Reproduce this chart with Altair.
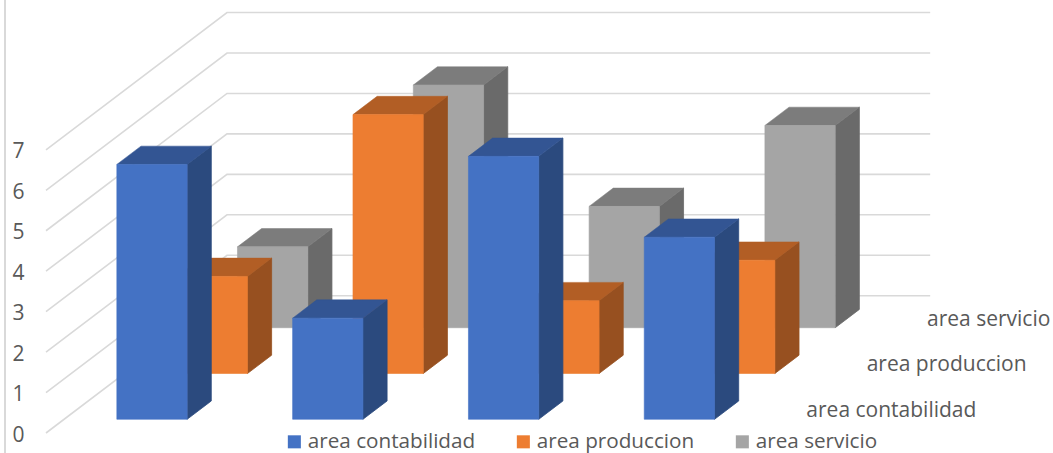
import altair as alt
import pandas as pd

# Survey results per area, drawn as a 3-D column chart on an oblique floor.
series = ["area contabilidad", "area produccion", "area servicio"]
contabilidad = [6.3, 2.5, 6.5, 4.5]
produccion = [2.4, 6.4, 1.8, 2.8]
servicio = [2.0, 6.0, 3.0, 5.0]
values_by_series = [contabilidad, produccion, servicio]
ticks = [0, 1, 2, 3, 4, 5, 6, 7]

front_colors = ["#4472C4", "#ED7D31", "#A5A5A5"]
top_colors = ["#335593", "#B25E25", "#7C7C7C"]
side_colors = ["#2B4A7E", "#975020", "#6A6A6A"]
GRID = "#D9D9D9"
INK = "#595959"
FONT = "Open Sans"

# Oblique projection: one series step of depth shifts a point right and up.
N_CAT = 4
N_SER = 3
CAT_PX = 175.8
UNIT_PX = 40.45
SHEAR_X = 60.33 / CAT_PX
SHEAR_Y = 45.77 / UNIT_PX
GAP = 0.3
BAR = 0.4

LEFT = 30
ORIGIN_X = 46
ORIGIN_Y = 433
W, H = 1053, 453
x_scale = alt.Scale(domain=[(LEFT - ORIGIN_X) / CAT_PX, (W - ORIGIN_X) / CAT_PX], nice=False, zero=False)
y_scale = alt.Scale(domain=[(ORIGIN_Y - H) / UNIT_PX, ORIGIN_Y / UNIT_PX], nice=False, zero=False)


def px(cat, depth):
    return cat + depth * SHEAR_X


def py(value, depth):
    return value + depth * SHEAR_Y


X = alt.X("x:Q", scale=x_scale, axis=None)
Y = alt.Y(
    "y:Q",
    scale=y_scale,
    title=None,
    axis=alt.Axis(
        values=ticks, domain=False, ticks=False, grid=False, labelPadding=6, labelOffset=2,
        labelFont=FONT, labelFontSize=21, labelColor=INK, format="d",
    ),
)

# Wall and floor gridlines
grid_rows = []
for t in ticks:
    grid_rows += [
        {"tick": t, "x": px(0, 0), "y": py(t, 0)},
        {"tick": t, "x": px(0, N_SER), "y": py(t, N_SER)},
        {"tick": t, "x": px(N_CAT, N_SER), "y": py(t, N_SER)},
    ]
grid = alt.Chart(pd.DataFrame(grid_rows)).mark_line(stroke=GRID, strokeWidth=1.6).encode(
    x=X, y=Y, detail="tick:N"
)

frame = alt.Chart(pd.DataFrame({"f": [0]})).mark_rule(stroke=GRID, strokeWidth=2).encode(
    x=alt.value(5 - LEFT), y=alt.value(0), y2=alt.value(H)
)

layers = [grid, frame]

# Columns: back series first so nearer ones overlap them
for s in reversed(range(N_SER)):
    d0, d1 = s + GAP, s + GAP + BAR
    front, top, side = [], [], []
    for c, v in enumerate(values_by_series[s]):
        c0, c1 = c + GAP, c + GAP + BAR
        front.append({
            "series": series[s], "x": px(c0, d0), "x2": px(c1, d0),
            "y": py(v, d0), "y2": py(0, d0),
        })
        side += [
            {"bar": c, "x": px(c1, d0), "y": py(v, d0), "y2": py(0, d0)},
            {"bar": c, "x": px(c1, d1), "y": py(v, d1), "y2": py(0, d1)},
        ]
        top += [
            {"bar": c, "x": px(c0, d0), "y": py(v, d0), "y2": py(v, d0)},
            {"bar": c, "x": px(c0, d1), "y": py(v, d1), "y2": py(v, d0)},
            {"bar": c, "x": px(c1, d0), "y": py(v, d1), "y2": py(v, d0)},
            {"bar": c, "x": px(c1, d1), "y": py(v, d1), "y2": py(v, d1)},
        ]
    layers.append(
        alt.Chart(pd.DataFrame(side)).mark_area(
            fill=side_colors[s], stroke=side_colors[s], strokeWidth=0.8, interpolate="linear"
        ).encode(x=X, y=Y, y2="y2:Q", detail="bar:N")
    )
    layers.append(
        alt.Chart(pd.DataFrame(top)).mark_area(
            fill=top_colors[s], stroke=top_colors[s], strokeWidth=0.5, interpolate="linear"
        ).encode(x=X, y=Y, y2="y2:Q", detail="bar:N")
    )
    layers.append(
        alt.Chart(pd.DataFrame(front)).mark_rect(stroke=front_colors[s], strokeWidth=0.6).encode(
            x=X, x2="x2:Q", y=Y, y2="y2:Q",
            color=alt.Color(
                "series:N",
                scale=alt.Scale(domain=series, range=front_colors),
                legend=alt.Legend(
                    title=None, orient="none", direction="horizontal", columns=3,
                    legendX=284 - LEFT, legendY=431, symbolType="square", symbolSize=170,
                    symbolStrokeWidth=0, labelFont=FONT, labelFontSize=20.7, labelColor=INK,
                    labelOffset=3, labelLimit=300, columnPadding=37, padding=0,
                ),
            ),
        )
    )

# Depth-axis labels, one per series, at the right edge of the floor
depth_rows = [
    {"name": name, "x": px(N_CAT, i + 0.5), "y": py(0, i + 0.5)}
    for i, name in enumerate(series)
]
depth_labels = alt.Chart(pd.DataFrame(depth_rows)).mark_text(
    align="left", baseline="middle", dx=27, dy=1, font=FONT, fontSize=21, color=INK
).encode(x=X, y=Y, text="name:N")
layers.append(depth_labels)

chart = alt.layer(*layers).properties(
    width=W - LEFT,
    height=H,
    padding={"left": LEFT, "top": 0, "right": 0, "bottom": 0},
    autosize=alt.AutoSizeParams(type="none"),
    background="white",
).configure_view(stroke=None)

chart.save("out.html", embed_options={"renderer": "svg", "actions": False})
